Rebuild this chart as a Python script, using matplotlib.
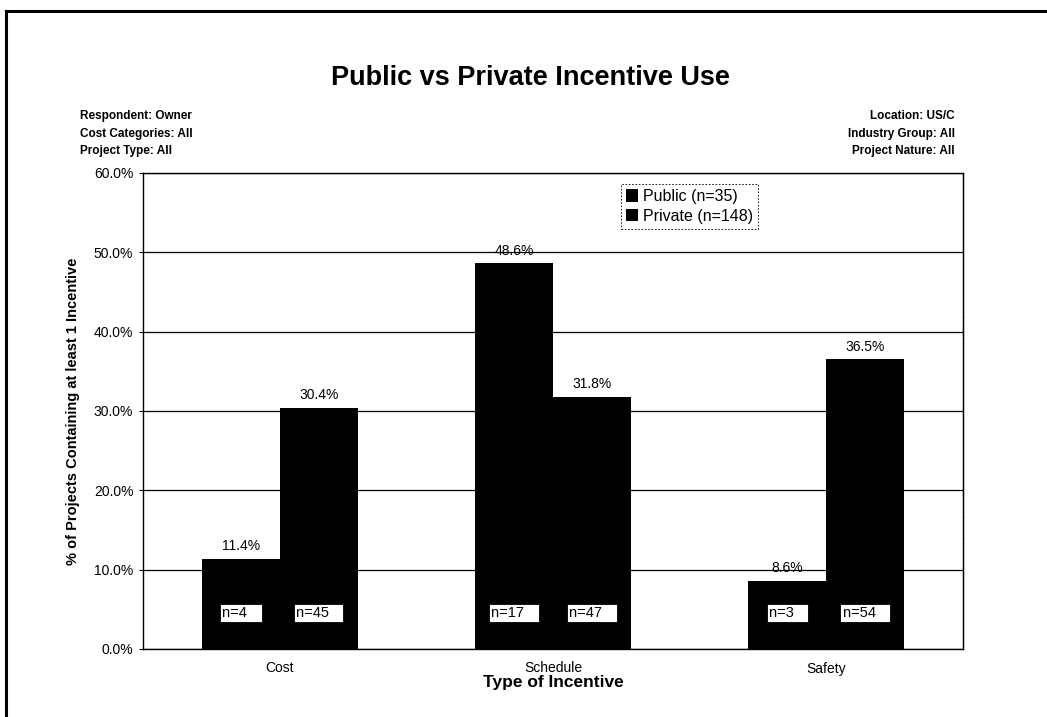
import numpy as np
import matplotlib
matplotlib.use("Agg")
from matplotlib import pyplot as plt
from matplotlib import ticker as mticker
from matplotlib.lines import Line2D

plt.rcParams["font.family"] = ["Liberation Sans", "DejaVu Sans"]

# Survey data
categories = ["Cost", "Schedule", "Safety"]
public_pct = [11.4, 48.6, 8.6]
private_pct = [30.4, 31.8, 36.5]
public_n = [4, 17, 3]
private_n = [45, 47, 54]
series_labels = ["Public (n=35)", "Private (n=148)"]
left_notes = ["Respondent: Owner", "Cost Categories: All", "Project Type: All"]
right_notes = ["Location: US/C", "Industry Group: All", "Project Nature: All"]

fig = plt.figure(figsize=(10.47, 7.17), dpi=100)
ax = fig.add_axes([143 / 1047, 1 - 649 / 717, 820 / 1047, 476 / 717])

x = np.arange(len(categories))
w = 0.285
b1 = ax.bar(x - w / 2, public_pct, w, color="black", label=series_labels[0], zorder=2)
b2 = ax.bar(x + w / 2, private_pct, w, color="black", label=series_labels[1], zorder=2)

# value labels above the bars, n counts in white boxes inside
for bars, vals, ns in ((b1, public_pct, public_n), (b2, private_pct, private_n)):
    for rect, v, n in zip(bars, vals, ns):
        cx = rect.get_x() + rect.get_width() / 2
        ax.annotate(f"{v:.1f}%", (cx, v), xytext=(0, 4), textcoords="offset points",
                    ha="center", va="bottom", fontsize=10, zorder=3)
        ax.text(cx, 4.5, f"n={n}   ", ha="center", va="center", fontsize=10.5, zorder=4,
                bbox=dict(boxstyle="square,pad=0.15", facecolor="white",
                          edgecolor="black", linewidth=0.6))

ax.set_xlim(-0.5, 2.5)
ax.set_ylim(0, 60)
ax.yaxis.set_major_locator(mticker.MultipleLocator(10))
ax.yaxis.set_major_formatter(mticker.FuncFormatter(lambda v, p: f"{v:.1f}%"))
ax.set_xticks(x)
ax.set_xticklabels(categories, fontsize=10)
ax.tick_params(axis="x", length=0, pad=9)
ax.tick_params(axis="y", length=3, labelsize=10, pad=4)
ax.grid(axis="y", color="black", linewidth=0.9, zorder=0)
ax.set_axisbelow(True)
for s in ax.spines.values():
    s.set_linewidth(1.0)
ax.spines["right"].set_linestyle((0, (1, 0.5)))

ax.set_xlabel("Type of Incentive", fontsize=12.5, fontweight="bold", labelpad=0)
ax.set_ylabel("% of Projects Containing at least 1 Incentive", fontsize=10.5,
              fontweight="bold", labelpad=10)

leg = ax.legend(loc="upper left", bbox_to_anchor=(0.573, 0.993), fontsize=11.5,
                handlelength=0.8, handleheight=0.8, handletextpad=0.3,
                borderpad=0.3, labelspacing=0.3, fancybox=False, framealpha=1)
leg.get_frame().set_edgecolor("black")
leg.get_frame().set_linewidth(0.6)
leg.get_frame().set_linestyle((0, (2, 2)))

fig.text(0.507, 1 - 78 / 717, "Public vs Private Incentive Use", ha="center",
         va="center", fontsize=19.5, fontweight="bold")
for i, (lt, rt) in enumerate(zip(left_notes, right_notes)):
    yy = 1 - (116 + i * 17.5) / 717
    fig.text(80 / 1047, yy, lt, ha="left", va="center", fontsize=8.5, fontweight="bold")
    fig.text(955 / 1047, yy, rt, ha="right", va="center", fontsize=8.5, fontweight="bold")

# outer frame (top and left edges)
fig.add_artist(Line2D([6 / 1047, 6 / 1047], [0, 1 - 11 / 717], color="black",
                      linewidth=2.2, transform=fig.transFigure))
fig.add_artist(Line2D([6 / 1047, 1], [1 - 11 / 717, 1 - 11 / 717], color="black",
                      linewidth=2.2, transform=fig.transFigure))

fig.savefig("out.png", dpi=100)
